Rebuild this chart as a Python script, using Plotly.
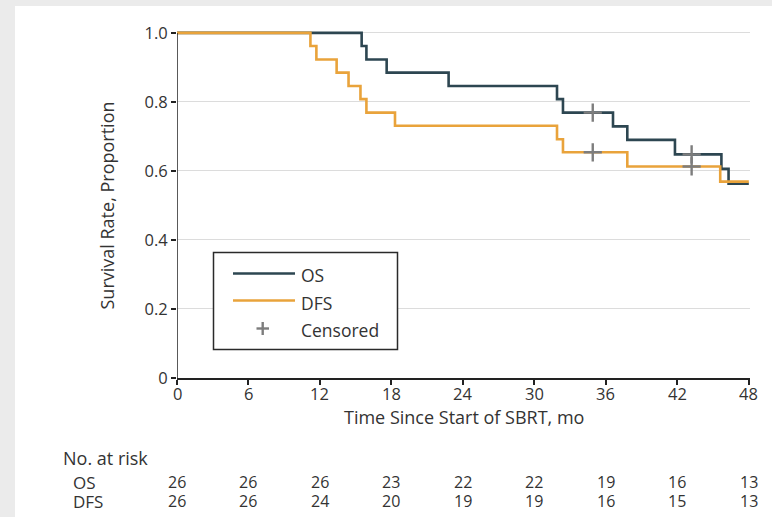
import plotly.graph_objects as go

# ---------------- data ----------------
os_times = [0, 15.5, 15.9, 17.6, 22.8, 31.9, 32.4, 36.6, 37.8, 41.8, 45.7, 46.3, 48]
os_surv = [1.0, 0.962, 0.923, 0.885, 0.846, 0.808, 0.769, 0.729, 0.690, 0.648, 0.606, 0.563, 0.563]

dfs_times = [0, 11.2, 11.7, 13.4, 14.4, 15.4, 15.9, 18.3, 31.9, 32.4, 37.8, 45.6, 48]
dfs_surv = [1.0, 0.962, 0.923, 0.885, 0.846, 0.808, 0.769, 0.731, 0.692, 0.654, 0.613, 0.569, 0.569]

os_cens_t = [34.9, 43.2]
os_cens_s = [0.769, 0.648]
dfs_cens_t = [34.9, 43.2]
dfs_cens_s = [0.654, 0.613]

x_ticks = [0, 6, 12, 18, 24, 30, 36, 42, 48]
y_ticks = [0, 0.2, 0.4, 0.6, 0.8, 1.0]
y_ticktext = ["0", "0.2", "0.4", "0.6", "0.8", "1.0"]

risk_os = [26, 26, 26, 23, 22, 22, 19, 16, 13]
risk_dfs = [26, 26, 24, 20, 19, 19, 16, 15, 13]

# ---------------- style ----------------
W, H = 772, 517
L, R, T, B = 177, 22, 26, 139
PW, PH = W - L - R, H - T - B
FONT = "Open Sans"
TXT = "#333333"
AX = "#222222"
OS_C = "#2d4651"
DFS_C = "#e9a33b"
CEN_C = "#7d7d7d"
FS_T = 18     # words
FS_N = 16.5   # axis numbers
FS_R = 16     # risk table
FS_LG = 17.5  # legend


def px(xp):
    return (xp - L) / PW


def py(yp):
    return (H - B - yp) / PH


def font(s):
    return dict(family=FONT, size=s, color=TXT)


fig = go.Figure()
fig.add_trace(go.Scatter(x=os_times, y=os_surv, mode="lines", line=dict(color=OS_C, width=2.6, shape="hv"),
                         showlegend=False, hoverinfo="skip"))
fig.add_trace(go.Scatter(x=dfs_times, y=dfs_surv, mode="lines", line=dict(color=DFS_C, width=2.6, shape="hv"),
                         showlegend=False, hoverinfo="skip"))
fig.add_trace(go.Scatter(x=os_cens_t + dfs_cens_t, y=os_cens_s + dfs_cens_s, mode="markers",
                         marker=dict(symbol="cross-thin", size=13, line=dict(color=CEN_C, width=2.4)),
                         showlegend=False, hoverinfo="skip"))

shapes = []
# white page area over gray background
shapes.append(dict(type="rect", xref="paper", yref="paper", x0=px(15), x1=px(W + 5), y0=py(H + 5), y1=py(6),
                   fillcolor="white", line=dict(width=0), layer="below"))
# y axis line (from 0 up to 1.0 only)
shapes.append(dict(type="line", xref="x", yref="y", x0=0, x1=0, y0=0, y1=1.0,
                   line=dict(color=AX, width=1.5), layer="above"))
# legend box
shapes.append(dict(type="rect", xref="paper", yref="paper", x0=px(213.5), x1=px(397.5), y0=py(349.5), y1=py(252.5),
                   fillcolor="white", line=dict(color="#2a2a2a", width=1.5), layer="above"))
shapes.append(dict(type="line", xref="paper", yref="paper", x0=px(233), x1=px(295), y0=py(273.5), y1=py(273.5),
                   line=dict(color=OS_C, width=2.6), layer="above"))
shapes.append(dict(type="line", xref="paper", yref="paper", x0=px(233), x1=px(295), y0=py(300.5), y1=py(300.5),
                   line=dict(color=DFS_C, width=2.6), layer="above"))
shapes.append(dict(type="line", xref="paper", yref="paper", x0=px(256.5), x1=px(269), y0=py(328.5), y1=py(328.5),
                   line=dict(color=CEN_C, width=2.4), layer="above"))
shapes.append(dict(type="line", xref="paper", yref="paper", x0=px(262.7), x1=px(262.7), y0=py(322), y1=py(335),
                   line=dict(color=CEN_C, width=2.4), layer="above"))

ann = []
for txt, yy in [("OS", 274.5), ("DFS", 302.5), ("Censored", 329.5)]:
    ann.append(dict(text=txt, xref="paper", yref="paper", x=px(299), y=py(yy), xanchor="left", yanchor="middle",
                    showarrow=False, font=font(FS_LG)))
# x tick labels (placed on the x scale)
for xt in x_ticks:
    ann.append(dict(text=str(xt), xref="x", yref="paper", x=xt, y=py(393), xanchor="center", yanchor="middle",
                    showarrow=False, font=font(FS_N)))
# axis titles
ann.append(dict(text="Time Since Start of SBRT, mo", xref="paper", yref="paper", x=0.5, y=py(417),
                xanchor="center", yanchor="middle", showarrow=False, font=font(FS_T)))
ann.append(dict(text="Survival Rate, Proportion", xref="paper", yref="paper", x=px(106), y=0.5 * (py(33) + py(378)),
                xanchor="center", yanchor="middle", textangle=-90, showarrow=False, font=font(FS_T)))
# risk table
ann.append(dict(text="No. at risk", xref="paper", yref="paper", x=px(61), y=py(458), xanchor="left",
                yanchor="middle", showarrow=False, font=font(FS_T)))
ann.append(dict(text="OS", xref="paper", yref="paper", x=px(71), y=py(482), xanchor="left",
                yanchor="middle", showarrow=False, font=font(FS_R + 1)))
ann.append(dict(text="DFS", xref="paper", yref="paper", x=px(71), y=py(501), xanchor="left",
                yanchor="middle", showarrow=False, font=font(FS_R + 1)))
for xt, a, d in zip(x_ticks, risk_os, risk_dfs):
    ann.append(dict(text=str(a), xref="x", yref="paper", x=xt, y=py(482), xanchor="center", yanchor="middle",
                    showarrow=False, font=font(FS_R)))
    ann.append(dict(text=str(d), xref="x", yref="paper", x=xt, y=py(501), xanchor="center", yanchor="middle",
                    showarrow=False, font=font(FS_R)))

fig.update_layout(
    width=W, height=H,
    margin=dict(l=L, r=R, t=T, b=B, pad=0),
    paper_bgcolor="#ebebeb",
    plot_bgcolor="white",
    font=font(FS_N),
    shapes=shapes,
    annotations=ann,
    showlegend=False,
)
fig.update_xaxes(range=[0, 48.1], tickvals=x_ticks, showticklabels=False, ticks="outside", ticklen=5,
                 tickwidth=1.5, tickcolor=AX, showline=True, linecolor=AX, linewidth=1.5,
                 showgrid=False, zeroline=False)
fig.update_yaxes(range=[0, 1.02], tickvals=y_ticks, ticktext=y_ticktext, ticks="outside", ticklen=5,
                 tickwidth=1.5, tickcolor=AX, showline=False,
                 showgrid=True, gridcolor="#dcdcdc", gridwidth=1, zeroline=False,
                 tickfont=font(FS_N))

fig.write_html("out.html")
